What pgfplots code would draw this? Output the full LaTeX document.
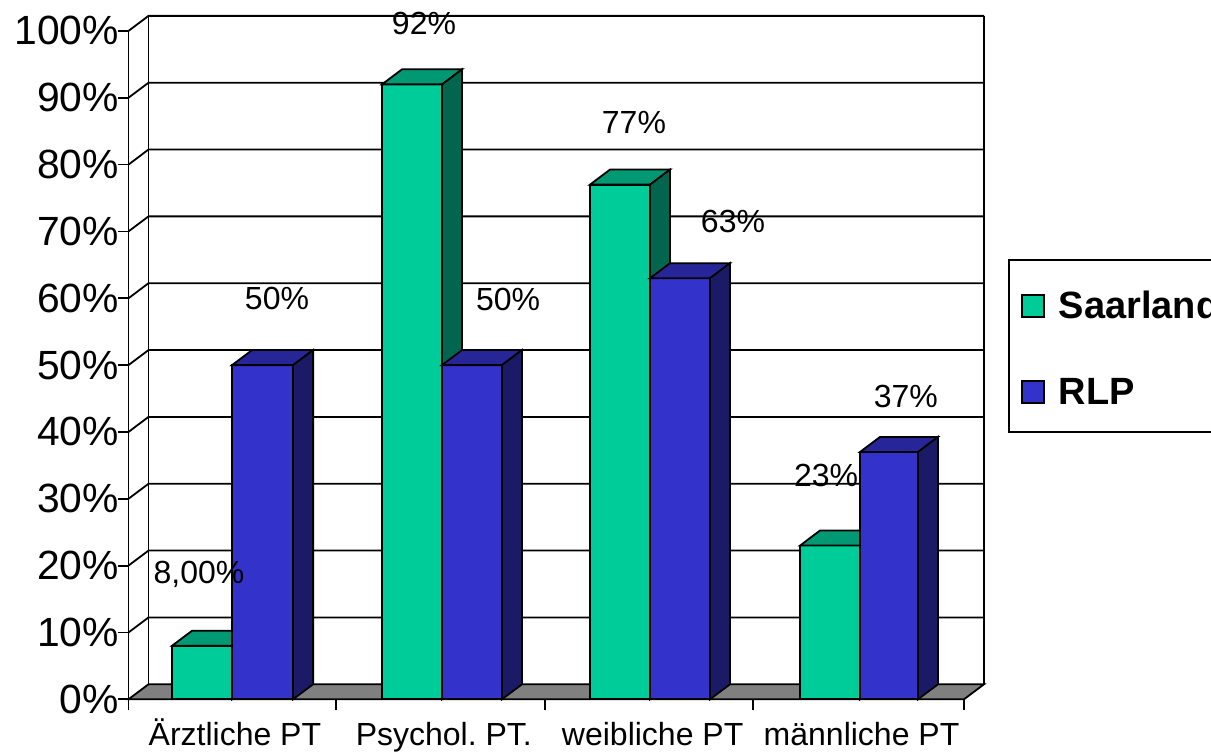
\documentclass[border=0pt]{standalone}
\usepackage{pgfplots}
\pgfplotsset{compat=1.18}
\usepackage{fontspec}
\setmainfont{Liberation Sans}
\definecolor{gf}{HTML}{00CC99}
\definecolor{gt}{HTML}{009973}
\definecolor{gs}{HTML}{00664D}
\definecolor{bf}{HTML}{3333CC}
\definecolor{bt}{HTML}{262699}
\definecolor{bs}{HTML}{1A1A66}
\definecolor{fl}{HTML}{808080}
\newcommand{\dx}{0.0958}
\newcommand{\dy}{2.25}
% x0, x1, value, front, top, side
\newcommand{\tbar}[6]{%
  \addplot[draw=black,fill=#4] coordinates {(#1,0) (#2,0) (#2,#3) (#1,#3)} --cycle;
  \addplot[draw=black,fill=#5] coordinates {(#1,#3) (#2,#3) ({#2+\dx},{#3+\dy}) ({#1+\dx},{#3+\dy})} --cycle;
  \addplot[draw=black,fill=#6] coordinates {(#2,0) ({#2+\dx},\dy) ({#2+\dx},{#3+\dy}) (#2,#3)} --cycle;
}
\newcommand{\gridl}[1]{%
  \addplot[draw=black] coordinates {(0,#1) (\dx,{#1+\dy}) ({4+\dx},{#1+\dy})};
}
\begin{document}
\begin{tikzpicture}[line join=miter]
\clip (0,0) rectangle (605.5pt,376pt);
\begin{axis}[
  at={(64.25pt,26.35pt)}, anchor=south west,
  scale only axis, width=417.75pt, height=334.2pt,
  xmin=0, xmax=4, ymin=0, ymax=100,
  clip=false,
  axis x line=bottom, axis y line=left,
  axis line style={-, line width=0.9pt},
  every tick/.style={black, line width=0.9pt},
  tick align=outside, major tick length=5.2pt,
  no markers,
  every axis plot/.append style={line width=0.9pt, mark=none},
  xtick={0,0.9934,1.994,2.990,4}, xticklabels={},
  extra x ticks={0.5,1.5,2.5,3.5},
  extra x tick labels={Ärztliche PT,Psychol.\ PT.,weibliche PT,männliche PT},
  extra x tick style={major tick length=0pt, tick label style={yshift=-7pt, xshift=1pt}},
  ytick={0,10,...,100},
  yticklabels={0\%,10\%,20\%,30\%,40\%,50\%,60\%,70\%,80\%,90\%,100\%},
  x tick label style={font=\fontsize{16}{19}\selectfont, anchor=base, yshift=-16pt},
  y tick label style={font=\fontsize{20.4}{24}\selectfont, inner xsep=-0.5pt},
  legend style={at={(1.0527,0.658)}, anchor=north west, draw=black, line width=0.9pt,
    inner xsep=6pt, inner ysep=10.5pt,
    font=\fontsize{19}{23}\selectfont\bfseries, row sep=24.5pt},
  legend cell align=left,
  legend image code/.code={\draw[draw=black,line width=0.9pt,#1] (0pt,-5.5pt) rectangle (11pt,5.5pt);},
]
\addlegendimage{fill=gf, yshift=-1.5pt}\addlegendentry{\rule{0pt}{16.4pt}\hspace*{5pt}Saarland}
\addlegendimage{fill=bf, yshift=0.5pt}\addlegendentry{\hspace*{5pt}RLP}
% floor
\addplot[draw=black,fill=fl] coordinates {(0,0) (\dx,\dy) ({4+\dx},\dy) (4,0)} --cycle;
% walls and grid
\addplot[draw=black] coordinates {(\dx,\dy) (\dx,{100+\dy})};
\addplot[draw=black] coordinates {({4+\dx},\dy) ({4+\dx},{100+\dy})};
\gridl{10}\gridl{20}\gridl{30}\gridl{40}\gridl{50}\gridl{60}\gridl{70}\gridl{80}\gridl{90}\gridl{100}
% bars
\tbar{0.208}{0.496}{8}{gf}{gt}{gs}
\tbar{0.496}{0.788}{50}{bf}{bt}{bs}
\tbar{1.2137}{1.501}{92}{gf}{gt}{gs}
\tbar{1.501}{1.788}{50}{bf}{bt}{bs}
\tbar{2.2094}{2.4967}{77}{gf}{gt}{gs}
\tbar{2.4967}{2.784}{63}{bf}{bt}{bs}
\tbar{3.2148}{3.5021}{23}{gf}{gt}{gs}
\tbar{3.5021}{3.7798}{37}{bf}{bt}{bs}
% labels
\begin{scope}[every node/.style={font=\fontsize{16}{19}\selectfont, inner sep=0pt}]
\node at (axis cs:0.3375,18.72) {8,00\%};
\node at (axis cs:0.711,59.96) {50\%};
\node at (axis cs:1.817,59.8) {50\%};
\node at (axis cs:1.4147,101.1) {92\%};
\node at (axis cs:2.420,86.3) {77\%};
\node at (axis cs:2.894,71.5) {63\%};
\node at (axis cs:3.340,33.45) {23\%};
\node at (axis cs:3.722,45.3) {37\%};
\end{scope}
\end{axis}
\end{tikzpicture}
\end{document}
